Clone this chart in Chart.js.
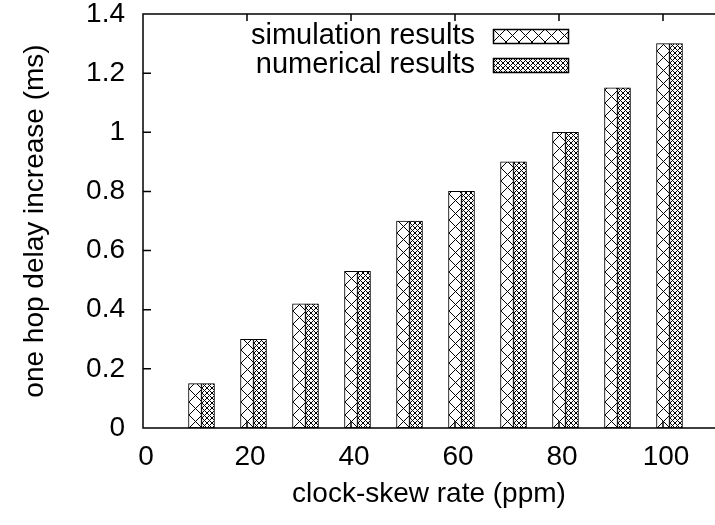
<!DOCTYPE html>
<html>
<head>
<meta charset="utf-8">
<title>one hop delay increase vs clock-skew rate</title>
<script src="https://cdn.jsdelivr.net/npm/chart.js@4.4.1/dist/chart.umd.min.js"></script>
<style>
  html, body { margin: 0; padding: 0; background: #fff; }
  #chart { display: block; }
</style>
</head>
<body>
<canvas id="chart" width="715" height="525"></canvas>
<script>
// clock-skew rate (ppm) on x, one hop delay increase (ms) on y
const skewRates = [10, 20, 30, 40, 50, 60, 70, 80, 90, 100];
const simulationDelay = [0.15, 0.30, 0.42, 0.53, 0.70, 0.80, 0.90, 1.00, 1.15, 1.30];
const numericalDelay = [0.15, 0.30, 0.42, 0.53, 0.70, 0.80, 0.90, 1.00, 1.15, 1.30];
const xTickValues = [0, 20, 40, 60, 80, 100];
const yTickValues = [0, 0.2, 0.4, 0.6, 0.8, 1, 1.2, 1.4];

const BOX_WIDTH = 2.5;      // bar width in ppm, numerical bar sits right of the simulation bar
const SIM_CELL = 13;        // hatch cell size (px) for the coarse cross pattern
const NUM_CELL = 5;         // hatch cell size (px) for the fine cross pattern
const FONT = '"Liberation Sans", Arial, Helvetica, sans-serif';
const FONT_SIZE = 28;

// cross hatch pattern, anchored at (x0, y0) so each bar starts on a cell edge
function makeHatch(ctx, cell, x0, y0) {
    const tile = document.createElement('canvas');
    tile.width = cell;
    tile.height = cell;
    const t = tile.getContext('2d');
    t.fillStyle = '#fff';
    t.fillRect(0, 0, cell, cell);
    t.strokeStyle = '#000';
    t.lineWidth = 1;
    t.beginPath();
    t.moveTo(-1, -1); t.lineTo(cell + 1, cell + 1);
    t.moveTo(cell + 1, -1); t.lineTo(-1, cell + 1);
    t.stroke();
    const p = ctx.createPattern(tile, 'repeat');
    p.setTransform(new DOMMatrix().translate(x0, y0));
    return p;
}

function barPattern(context, cell) {
    const chart = context.chart;
    const x = chart.scales.x;
    const y = chart.scales.y;
    if (!x || !y || context.type !== 'data' || !context.parsed) return '#fff';
    const left = Math.round(x.getPixelForValue(context.parsed.x - BOX_WIDTH / 2));
    return makeHatch(chart.ctx, cell, left, Math.round(y.getPixelForValue(0)));
}

// gnuplot style border: left, top, bottom, with inward ticks
const framePlugin = {
    id: 'frame',
    afterDatasetsDraw(chart) {
        const { ctx, chartArea: a, scales: { x, y } } = chart;
        ctx.save();
        ctx.strokeStyle = '#000';
        ctx.lineWidth = 1.5;
        ctx.beginPath();
        ctx.moveTo(a.right, a.top);
        ctx.lineTo(a.left, a.top);
        ctx.lineTo(a.left, a.bottom);
        ctx.lineTo(a.right, a.bottom);
        y.ticks.forEach(t => {
            const py = y.getPixelForValue(t.value);
            ctx.moveTo(a.left, py);
            ctx.lineTo(a.left + 8, py);
        });
        x.ticks.forEach(t => {
            const px = x.getPixelForValue(t.value);
            ctx.moveTo(px, a.top);
            ctx.lineTo(px, a.top + 7);
            ctx.moveTo(px, a.bottom);
            ctx.lineTo(px, a.bottom - 7);
        });
        ctx.stroke();
        ctx.restore();
    }
};

// key in the top right: label first, sample box after it
const keyPlugin = {
    id: 'key',
    afterDraw(chart) {
        const ctx = chart.ctx;
        const textRight = 475;
        const boxLeft = 493;
        const boxW = 75;
        const boxH = 14;
        const cells = [SIM_CELL, NUM_CELL];
        ctx.save();
        ctx.font = (FONT_SIZE + 1) + 'px ' + FONT;
        ctx.textAlign = 'right';
        ctx.textBaseline = 'middle';
        chart.data.datasets.forEach((ds, i) => {
            const cy = 36 + i * 29;
            ctx.fillStyle = '#000';
            ctx.fillText(ds.label, textRight, cy);
            const top = Math.round(cy - boxH / 2);
            ctx.fillStyle = makeHatch(ctx, cells[i], boxLeft, top);
            ctx.fillRect(boxLeft, top, boxW, boxH);
            ctx.strokeStyle = '#000';
            ctx.lineWidth = 1.5;
            ctx.strokeRect(boxLeft + 0.5, top + 0.5, boxW, boxH);
        });
        ctx.restore();
    }
};

const tickFont = { family: FONT, size: FONT_SIZE };

const ctx = document.getElementById('chart').getContext('2d');
const chart = new Chart(ctx, {
    type: 'bar',
    data: {
        datasets: [
            {
                label: 'simulation results',
                data: skewRates.map((r, i) => ({ x: r, y: simulationDelay[i] })),
                backgroundColor: c => barPattern(c, SIM_CELL)
            },
            {
                label: 'numerical results',
                data: skewRates.map((r, i) => ({ x: r + BOX_WIDTH, y: numericalDelay[i] })),
                backgroundColor: c => barPattern(c, NUM_CELL)
            }
        ]
    },
    options: {
        responsive: false,
        animation: false,
        devicePixelRatio: 1,
        layout: { padding: { top: 14, right: -9, left: 0, bottom: 0 } },
        datasets: {
            bar: {
                grouped: false,
                barPercentage: 1,
                categoryPercentage: 1,
                borderWidth: 1,
                borderColor: '#000',
                borderSkipped: false
            }
        },
        scales: {
            x: {
                type: 'linear',
                min: 0,
                max: 110,
                offset: false,
                afterFit: s => {
                    s.height = 97;
                    s.paddingLeft = 0;
                    s.paddingRight = 0;
                },
                afterBuildTicks: s => { s.ticks = xTickValues.map(v => ({ value: v })); },
                grid: { display: false, drawTicks: false },
                border: { display: false },
                ticks: {
                    font: tickFont,
                    color: '#000',
                    padding: 12,
                    labelOffset: 3,
                    maxRotation: 0,
                    autoSkip: false,
                    callback: v => String(v)
                },
                title: {
                    display: true,
                    text: 'clock-skew rate (ppm)',
                    font: tickFont,
                    color: '#000',
                    padding: { top: 0, bottom: 14 }
                }
            },
            y: {
                min: 0,
                max: 1.4,
                afterFit: s => {
                    s.width = 143;
                    s.paddingTop = 0;
                    s.paddingBottom = 0;
                },
                afterBuildTicks: s => { s.ticks = yTickValues.map(v => ({ value: v })); },
                grid: { display: false, drawTicks: false },
                border: { display: false },
                ticks: {
                    font: tickFont,
                    color: '#000',
                    padding: 18,
                    callback: v => String(+v.toFixed(1))
                },
                title: {
                    display: true,
                    text: 'one hop delay increase (ms)',
                    font: tickFont,
                    color: '#000',
                    padding: { top: 18, bottom: 0 }
                }
            }
        },
        plugins: {
            legend: { display: false },
            tooltip: { enabled: false }
        }
    },
    plugins: [framePlugin, keyPlugin]
});
</script>
</body>
</html>
